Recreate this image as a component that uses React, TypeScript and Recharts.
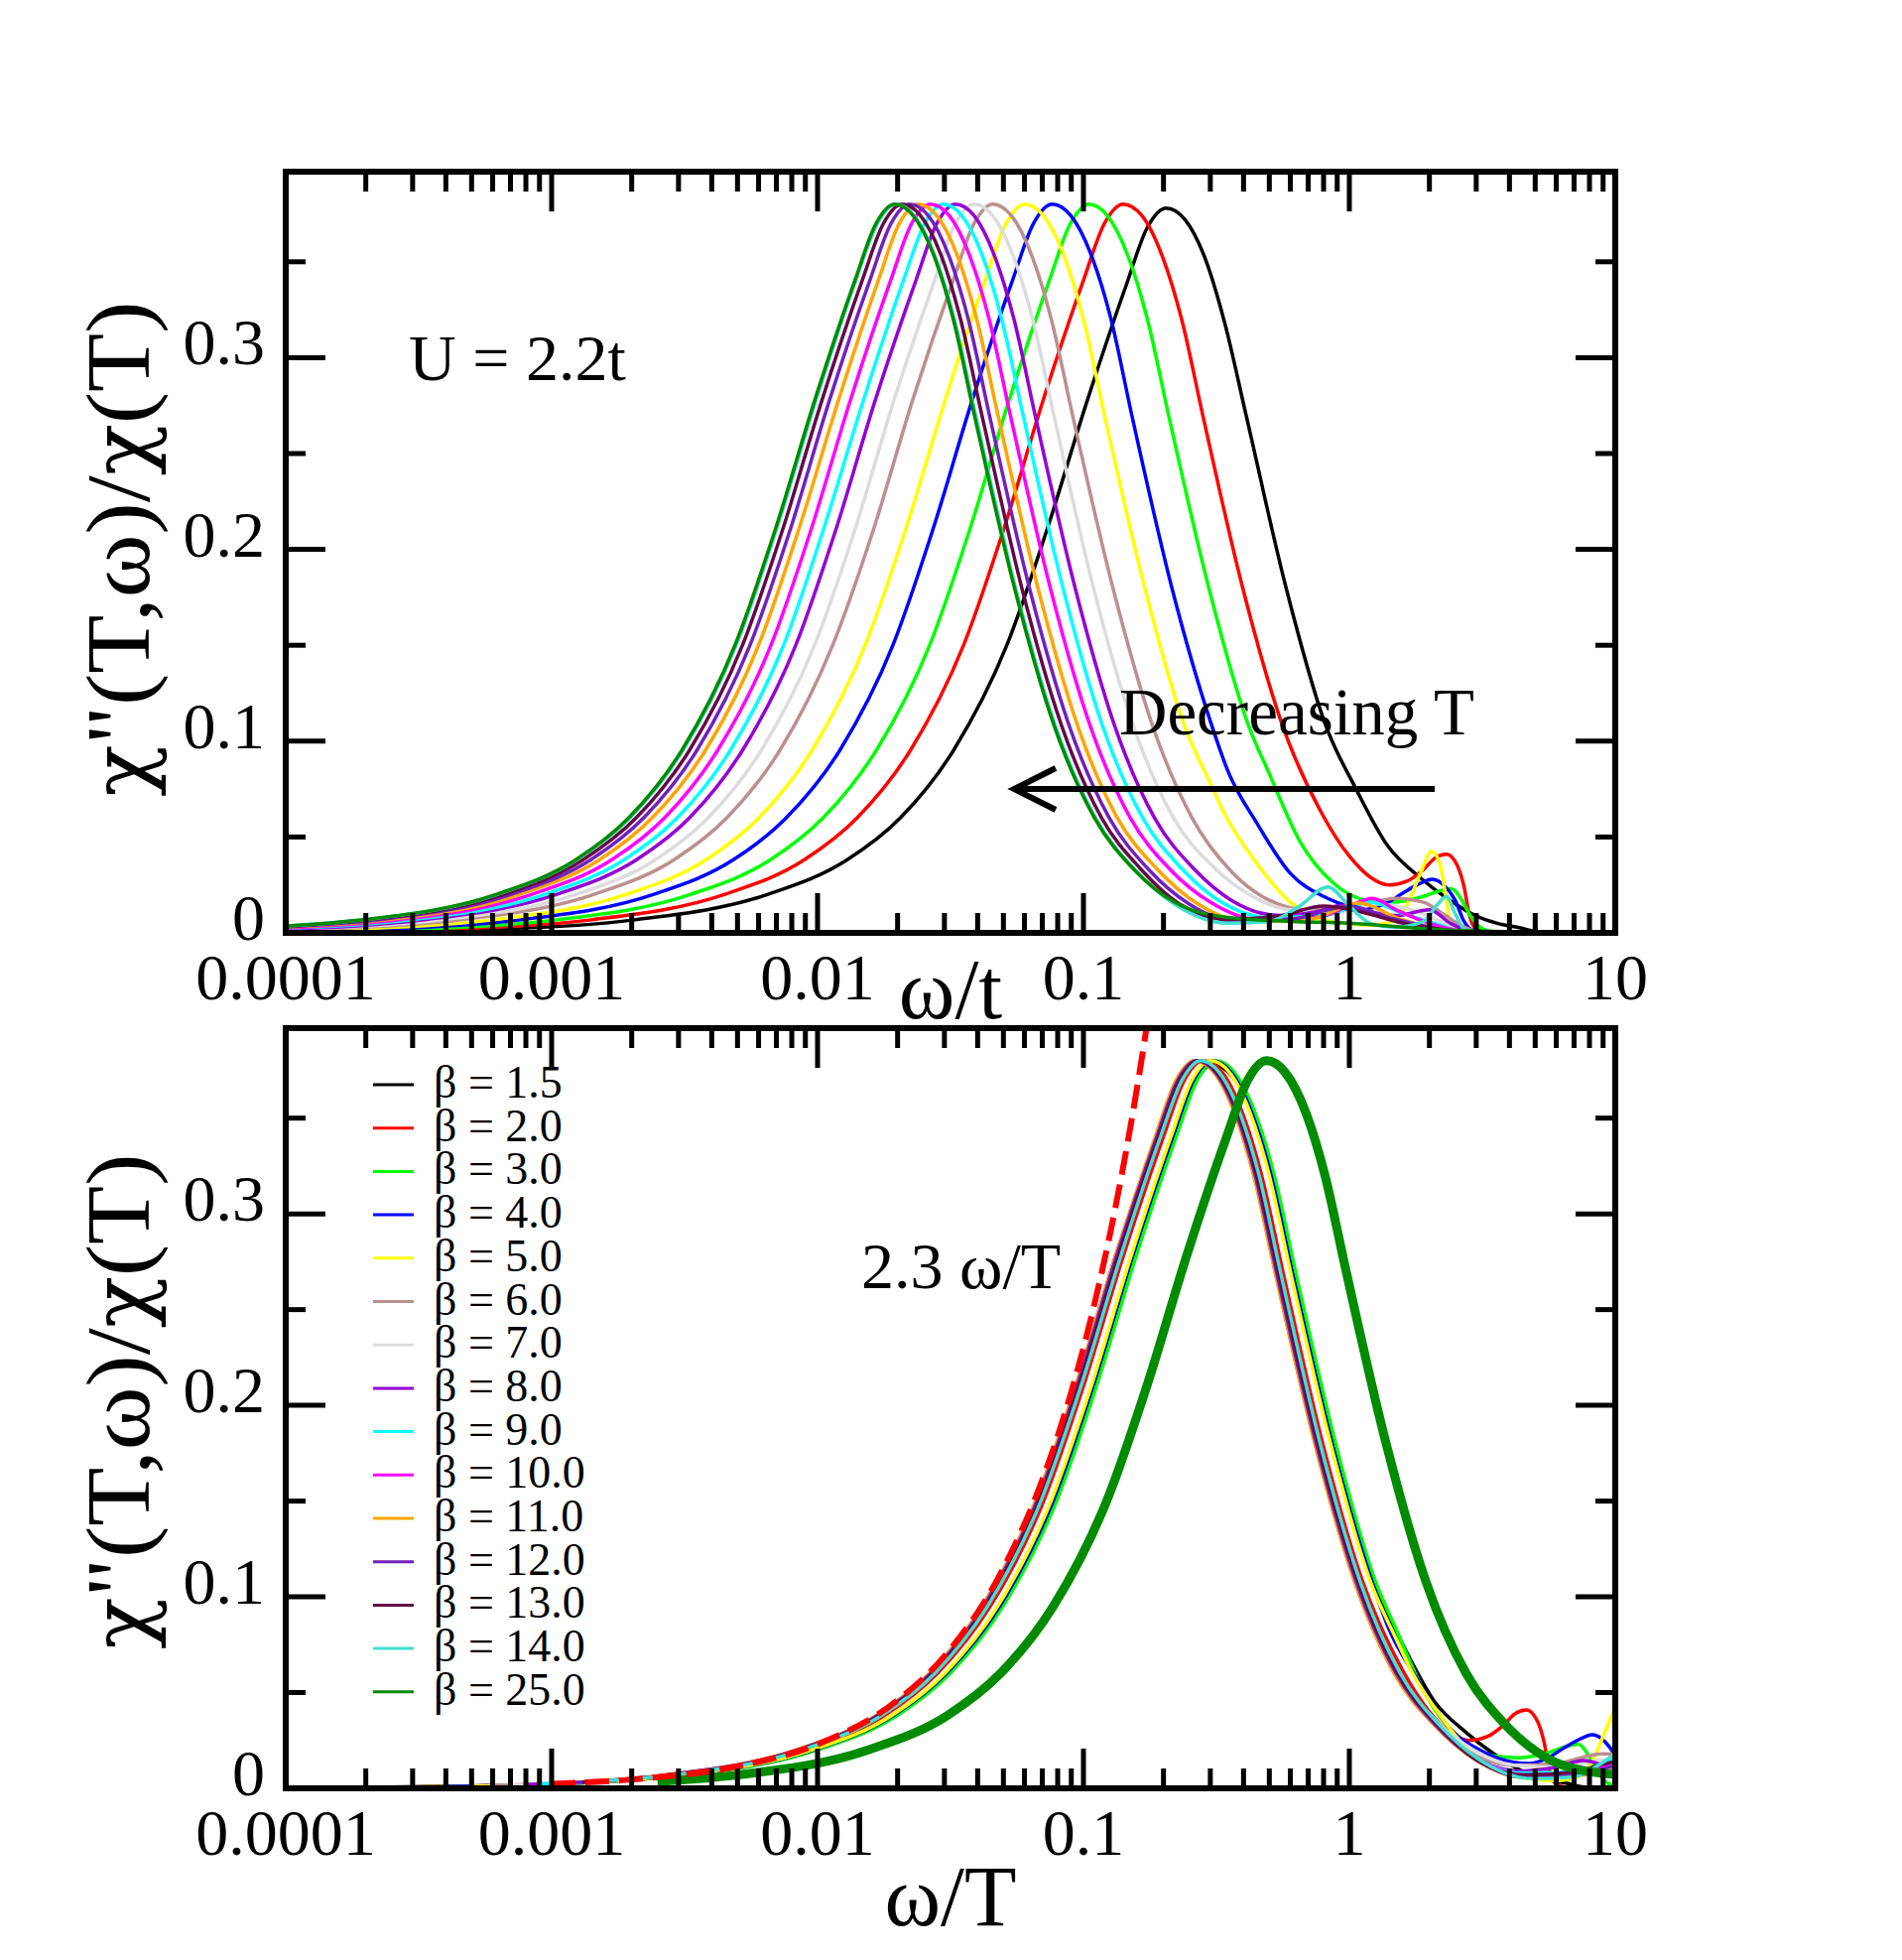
import React from 'react';
import { LineChart, Line, XAxis, YAxis } from 'recharts';

const FONT = "'Liberation Serif', 'Times New Roman', Times, serif";
const GREEK_FONT = "'DejaVu Serif', 'Liberation Serif', serif";

// ---------- data ----------
const betaValues: number[] = [1.5, 2, 3, 4, 5, 6, 7, 8, 9, 10, 11, 12, 13, 14, 25];
const betaLabels: string[] = [
  'β = 1.5', 'β = 2.0', 'β = 3.0', 'β = 4.0', 'β = 5.0', 'β = 6.0', 'β = 7.0', 'β = 8.0',
  'β = 9.0', 'β = 10.0', 'β = 11.0', 'β = 12.0', 'β = 13.0', 'β = 14.0', 'β = 25.0',
];
const lineColors: string[] = [
  '#000000', '#ff0000', '#00ff00', '#0000ff', '#ffff00', '#bc8f8f', '#dcdcdc', '#9400d3',
  '#00ffff', '#ff00ff', '#ffa500', '#7221bc', '#670748', '#40e0d0', '#008b00',
];

// each curve: [omega / t, chi''(T,omega)/chi(T)]
const curveB1_5: [number, number][] = [
  [0.0001, 0.00033], [0.000648, 0.0021], [0.00205, 0.0068], [0.00648, 0.02], [0.0129, 0.038],
  [0.0205, 0.06], [0.0324, 0.095], [0.0515, 0.15], [0.0728, 0.21], [0.103, 0.277],
  [0.145, 0.338], [0.174, 0.368], [0.205, 0.378], [0.241, 0.372], [0.29, 0.35], [0.34, 0.318],
  [0.409, 0.27], [0.578, 0.18], [0.816, 0.108], [1.06, 0.075], [1.4, 0.045], [1.82, 0.0295],
  [2.33, 0.018], [2.98, 0.009], [3.6, 0.005], [4.4, 0.0026], [5.0, 0.0008], [6.0, 0.0002], [10, 0],
];
const curveB2: [number, number][] = [
  [0.0001, 0.00048], [0.000446, 0.0021], [0.00141, 0.0068], [0.00446, 0.02], [0.0089, 0.038],
  [0.0141, 0.06], [0.0223, 0.095], [0.0354, 0.15], [0.05, 0.21], [0.0706, 0.278],
  [0.0998, 0.34], [0.12, 0.37], [0.141, 0.38], [0.166, 0.374], [0.199, 0.352], [0.234, 0.32],
  [0.281, 0.27], [0.397, 0.18], [0.561, 0.108], [0.79, 0.062], [1.0, 0.04], [1.2, 0.029],
  [1.41, 0.025], [1.65, 0.027], [1.9, 0.033], [2.1, 0.039], [2.32, 0.041], [2.55, 0.035],
  [2.7, 0.024], [2.82, 0.01], [2.95, 0.003], [3.3, 0.0005], [10, 0],
];
const curveB3: [number, number][] = [
  [0.0001, 0.00065], [0.000332, 0.0021], [0.00105, 0.0068], [0.00332, 0.02], [0.00663, 0.038],
  [0.0105, 0.06], [0.0166, 0.095], [0.0264, 0.15], [0.0373, 0.21], [0.0526, 0.278],
  [0.0743, 0.34], [0.0894, 0.37], [0.105, 0.38], [0.123, 0.374], [0.148, 0.352], [0.174, 0.32],
  [0.209, 0.27], [0.296, 0.18], [0.418, 0.108], [0.5, 0.083], [0.65, 0.048], [0.87, 0.026],
  [1.16, 0.017], [1.45, 0.016], [1.9, 0.019], [2.2, 0.022], [2.42, 0.023], [2.65, 0.017],
  [2.85, 0.009], [3.1, 0.003], [3.5, 0.0005], [10, 0],
];
const curveB4: [number, number][] = [
  [0.0001, 0.0009], [0.000241, 0.0021], [0.000763, 0.0068], [0.00241, 0.02], [0.00481, 0.038],
  [0.00763, 0.06], [0.0121, 0.095], [0.0192, 0.15], [0.0271, 0.21], [0.0382, 0.278],
  [0.054, 0.34], [0.0649, 0.37], [0.0763, 0.38], [0.0897, 0.374], [0.108, 0.352], [0.127, 0.32],
  [0.152, 0.27], [0.215, 0.18], [0.304, 0.108], [0.348, 0.085], [0.45, 0.057], [0.6, 0.031],
  [0.8, 0.019], [1.0, 0.014], [1.2, 0.013], [1.4, 0.016], [1.6, 0.021], [1.8, 0.025],
  [2.05, 0.028], [2.3, 0.024], [2.5, 0.017], [2.7, 0.006], [2.85, 0.002], [3.2, 0], [10, 0],
];
const curveB5: [number, number][] = [
  [0.0001, 0.0011], [0.00019, 0.0021], [0.000602, 0.0068], [0.0019, 0.02], [0.0038, 0.038],
  [0.00602, 0.06], [0.00951, 0.095], [0.0151, 0.15], [0.0214, 0.21], [0.0302, 0.278],
  [0.0426, 0.34], [0.0512, 0.37], [0.0602, 0.38], [0.0707, 0.374], [0.0851, 0.352], [0.1, 0.32],
  [0.12, 0.27], [0.17, 0.18], [0.24, 0.108], [0.3, 0.078], [0.34, 0.062], [0.45, 0.036],
  [0.6, 0.016], [0.75, 0.008], [0.95, 0.005], [1.2, 0.004], [1.45, 0.006], [1.65, 0.015],
  [1.85, 0.031], [2.04, 0.0425], [2.2, 0.035], [2.3, 0.02], [2.4, 0.005], [2.6, 0], [10, 0],
];
const curveB6: [number, number][] = [
  [0.0001, 0.0015], [0.000144, 0.0021], [0.000456, 0.0068], [0.00144, 0.02], [0.00288, 0.038],
  [0.00456, 0.06], [0.0072, 0.095], [0.0114, 0.15], [0.0162, 0.21], [0.0228, 0.278],
  [0.0323, 0.34], [0.0388, 0.37], [0.0456, 0.38], [0.0536, 0.374], [0.0644, 0.352], [0.0757, 0.32],
  [0.091, 0.27], [0.129, 0.18], [0.182, 0.108], [0.256, 0.06], [0.36, 0.032], [0.5, 0.017],
  [0.7, 0.012], [1.0, 0.013], [1.5, 0.018], [1.9, 0.016], [2.3, 0.009], [2.7, 0.003], [3.2, 0],
  [10, 0],
];
const curveB7: [number, number][] = [
  [0.0001, 0.0017], [0.000123, 0.0021], [0.000388, 0.0068], [0.00123, 0.02], [0.00245, 0.038],
  [0.00388, 0.06], [0.00613, 0.095], [0.00974, 0.15], [0.0138, 0.21], [0.0194, 0.278],
  [0.0275, 0.34], [0.033, 0.37], [0.0388, 0.38], [0.0456, 0.374], [0.0548, 0.352], [0.0644, 0.32],
  [0.0774, 0.27], [0.109, 0.18], [0.154, 0.108], [0.218, 0.06], [0.31, 0.034], [0.42, 0.02],
  [0.6, 0.012], [0.9, 0.011], [1.3, 0.015], [1.8, 0.011], [2.3, 0.005], [2.8, 0.001], [3.2, 0],
  [10, 0],
];
const curveB8: [number, number][] = [
  [0.0001, 0.002], [0.00033, 0.0068], [0.00104, 0.02], [0.00208, 0.038], [0.0033, 0.06],
  [0.00521, 0.095], [0.00828, 0.15], [0.0117, 0.21], [0.0165, 0.278], [0.0234, 0.34],
  [0.0281, 0.37], [0.033, 0.38], [0.0388, 0.374], [0.0466, 0.352], [0.0548, 0.32], [0.0658, 0.27],
  [0.093, 0.18], [0.131, 0.108], [0.185, 0.06], [0.262, 0.033], [0.36, 0.017], [0.55, 0.009],
  [0.75, 0.011], [0.95, 0.0145], [1.2, 0.011], [1.5, 0.009], [2.0, 0.012], [2.4, 0.005],
  [2.8, 0.001], [3.2, 0], [10, 0],
];
const curveB9: [number, number][] = [
  [0.0001, 0.0023], [0.000297, 0.0068], [0.00094, 0.02], [0.00187, 0.038], [0.00297, 0.06],
  [0.00469, 0.095], [0.00745, 0.15], [0.0105, 0.21], [0.0149, 0.278], [0.021, 0.34],
  [0.0253, 0.37], [0.0297, 0.38], [0.0349, 0.374], [0.042, 0.352], [0.0493, 0.32], [0.0593, 0.27],
  [0.0837, 0.18], [0.118, 0.108], [0.167, 0.06], [0.236, 0.033], [0.33, 0.016], [0.5, 0.008],
  [0.8, 0.009], [1.2, 0.016], [1.6, 0.01], [2.2, 0.004], [2.8, 0], [10, 0],
];
const curveB10: [number, number][] = [
  [0.0001, 0.0025], [0.000266, 0.0068], [0.00084, 0.02], [0.00168, 0.038], [0.00266, 0.06],
  [0.0042, 0.095], [0.00668, 0.15], [0.00944, 0.21], [0.0133, 0.278], [0.0188, 0.34],
  [0.0226, 0.37], [0.0266, 0.38], [0.0313, 0.374], [0.0376, 0.352], [0.0442, 0.32], [0.0531, 0.27],
  [0.075, 0.18], [0.106, 0.108], [0.15, 0.06], [0.212, 0.033], [0.3, 0.016], [0.45, 0.007],
  [0.75, 0.008], [1.0, 0.014], [1.22, 0.018], [1.5, 0.012], [2.0, 0.005], [2.6, 0.001], [3.0, 0],
  [10, 0],
];
const curveB11: [number, number][] = [
  [0.0001, 0.0028], [0.000239, 0.0068], [0.000755, 0.02], [0.00151, 0.038], [0.00239, 0.06],
  [0.00378, 0.095], [0.006, 0.15], [0.00848, 0.21], [0.012, 0.278], [0.0169, 0.34],
  [0.0203, 0.37], [0.0239, 0.38], [0.0281, 0.374], [0.0338, 0.352], [0.0397, 0.32], [0.0477, 0.27],
  [0.0674, 0.18], [0.0951, 0.108], [0.134, 0.06], [0.19, 0.033], [0.27, 0.015], [0.4, 0.006],
  [0.7, 0.007], [1.09, 0.0155], [1.5, 0.008], [2.0, 0.003], [2.6, 0], [10, 0],
];
const curveB12: [number, number][] = [
  [0.0001, 0.003], [0.000222, 0.0068], [0.0007, 0.02], [0.0014, 0.038], [0.00222, 0.06],
  [0.00351, 0.095], [0.00557, 0.15], [0.00788, 0.21], [0.0111, 0.278], [0.0157, 0.34],
  [0.0189, 0.37], [0.0222, 0.38], [0.0261, 0.374], [0.0314, 0.352], [0.0369, 0.32], [0.0443, 0.27],
  [0.0626, 0.18], [0.0884, 0.108], [0.125, 0.06], [0.176, 0.033], [0.25, 0.015], [0.37, 0.006],
  [0.6, 0.007], [1.0, 0.014], [1.4, 0.008], [2.0, 0.003], [2.6, 0], [10, 0],
];
const curveB13: [number, number][] = [
  [0.0001, 0.0033], [0.000208, 0.0068], [0.000657, 0.02], [0.00131, 0.038], [0.00208, 0.06],
  [0.00329, 0.095], [0.00522, 0.15], [0.00738, 0.21], [0.0104, 0.278], [0.0147, 0.34],
  [0.0177, 0.37], [0.0208, 0.38], [0.0244, 0.374], [0.0294, 0.352], [0.0345, 0.32], [0.0415, 0.27],
  [0.0586, 0.18], [0.0828, 0.108], [0.117, 0.06], [0.165, 0.033], [0.23, 0.015], [0.35, 0.007],
  [0.55, 0.009], [0.8, 0.014], [1.1, 0.011], [1.6, 0.005], [2.2, 0.002], [2.8, 0], [10, 0],
];
const curveB14: [number, number][] = [
  [0.0001, 0.0035], [0.000197, 0.0068], [0.000623, 0.02], [0.00124, 0.038], [0.00197, 0.06],
  [0.00311, 0.095], [0.00494, 0.15], [0.00699, 0.21], [0.00987, 0.278], [0.0139, 0.34],
  [0.0168, 0.37], [0.0197, 0.38], [0.0231, 0.374], [0.0278, 0.352], [0.0327, 0.32], [0.0393, 0.27],
  [0.0555, 0.18], [0.0784, 0.108], [0.111, 0.06], [0.156, 0.033], [0.22, 0.015], [0.35, 0.005],
  [0.5, 0.006], [0.65, 0.014], [0.83, 0.024], [1.0, 0.014], [1.2, 0.005], [1.5, 0.003],
  [1.9, 0.006], [2.15, 0.015], [2.32, 0.019], [2.5, 0.01], [2.7, 0.002], [3.0, 0], [10, 0],
];
const curveB25: [number, number][] = [
  [0.0001, 0.0035], [0.000195, 0.0068], [0.000617, 0.02], [0.00123, 0.038], [0.00195, 0.06],
  [0.00308, 0.095], [0.00489, 0.15], [0.00692, 0.21], [0.00977, 0.278], [0.0138, 0.34],
  [0.0166, 0.37], [0.0195, 0.38], [0.0229, 0.374], [0.0276, 0.352], [0.0324, 0.32], [0.0389, 0.27],
  [0.055, 0.18], [0.0776, 0.108], [0.11, 0.06], [0.155, 0.033], [0.22, 0.016], [0.35, 0.008],
  [0.6, 0.006], [1.0, 0.005], [2.0, 0.002], [3.0, 0.001], [10, 0],
];
const curves = [
  curveB1_5, curveB2, curveB3, curveB4, curveB5, curveB6, curveB7, curveB8,
  curveB9, curveB10, curveB11, curveB12, curveB13, curveB14, curveB25,
];

// dashed guide "2.3 omega/T" (omega/T, value)
const guideW: number[] = [0.001, 0.002, 0.005, 0.01, 0.02, 0.03, 0.05, 0.07, 0.09, 0.11, 0.13, 0.15, 0.17, 0.19];
const guideChi: number[] = [0.0023, 0.0046, 0.0115, 0.023, 0.046, 0.069, 0.115, 0.161, 0.207, 0.253, 0.299, 0.345, 0.391, 0.437];

// axis ticks
const xMajorTicks: number[] = [0.0001, 0.001, 0.01, 0.1, 1, 10];
const xTickLabels: string[] = ['0.0001', '0.001', '0.01', '0.1', '1', '10'];
const xMinorMultipliers: number[] = [2, 3, 4, 5, 6, 7, 8, 9];
const yMajorTicks: number[] = [0, 0.1, 0.2, 0.3];
const yTickLabels: string[] = ['0', '0.1', '0.2', '0.3'];
const yMinorTicks: number[] = [0.05, 0.15, 0.25, 0.35];

const X_DOMAIN: [number, number] = [0.0001, 10];
const Y_DOMAIN: [number, number] = [0, 0.397];

// ---------- derived tables for the library ----------
const xTicks: number[] = [];
xMajorTicks.forEach((d, i) => {
  xTicks.push(d);
  if (i < xMajorTicks.length - 1) xMinorMultipliers.forEach((m) => xTicks.push(d * m));
});
const yTicks: number[] = [...yMajorTicks, ...yMinorTicks].sort((a, b) => a - b);

const topSeries = curves.map((c, i) => ({
  key: 'top' + i,
  color: lineColors[i],
  data: c.map(([x, y]) => ({ x, y })),
}));
// omega/T = (omega/t) * beta
const bottomSeries = curves.map((c, i) => ({
  key: 'bot' + i,
  color: lineColors[i],
  data: c.map(([x, y]) => ({ x: x * betaValues[i], y })),
}));
const guideData = guideW.map((x, i) => ({ x, y: guideChi[i] }));

// ---------- tick renderers ----------
const majorX = (v: number) => xMajorTicks.findIndex((d) => Math.abs(v / d - 1) < 1e-6);
const majorY = (v: number) => yMajorTicks.findIndex((d) => Math.abs(v - d) < 1e-9);

const makeXTick = (side: 'bottom' | 'top') => (props: any) => {
  const { x, y, payload } = props;
  const mi = majorX(payload.value);
  const len = mi >= 0 ? 40 : 20;
  const dir = side === 'bottom' ? -1 : 1;
  return (
    <g>
      <line x1={x} x2={x} y1={y} y2={y + dir * len} stroke="#000" strokeWidth={5} />
      {side === 'bottom' && mi >= 0 ? (
        <text x={x} y={y + 67} textAnchor="middle" fontSize={66} fontFamily={FONT} fill="#000">
          {xTickLabels[mi]}
        </text>
      ) : null}
    </g>
  );
};
const makeYTick = (side: 'left' | 'right') => (props: any) => {
  const { x, y, payload } = props;
  const mi = majorY(payload.value);
  const len = mi >= 0 ? 40 : 20;
  const dir = side === 'left' ? 1 : -1;
  return (
    <g>
      <line x1={x} x2={x + dir * len} y1={y} y2={y} stroke="#000" strokeWidth={5} />
      {side === 'left' && mi >= 0 ? (
        <text x={x - 21} y={y + 7} textAnchor="end" fontSize={66} fontFamily={FONT} fill="#000">
          {yTickLabels[mi]}
        </text>
      ) : null}
    </g>
  );
};

const axisLineStyle = { stroke: '#000', strokeWidth: 6, strokeLinecap: 'square' as const };

function Panel(props: {
  height: number;
  marginTop: number;
  xAxisHeight: number;
  series: { key: string; color: string; data: { x: number; y: number }[] }[];
  thickLast: boolean;
  guide: boolean;
}) {
  const { height, marginTop, xAxisHeight, series, thickLast, guide } = props;
  return (
    <LineChart width={1917} height={height} margin={{ top: marginTop - 1, right: 288, bottom: 0, left: 0 }}>
      <XAxis
        xAxisId="b"
        dataKey="x"
        type="number"
        scale="log"
        domain={X_DOMAIN}
        allowDataOverflow
        ticks={xTicks}
        interval={0}
        tickSize={0}
        tickMargin={0}
        tickLine={false}
        axisLine={axisLineStyle}
        height={xAxisHeight}
        tick={makeXTick('bottom')}
      />
      <XAxis
        xAxisId="t"
        orientation="top"
        dataKey="x"
        type="number"
        scale="log"
        domain={X_DOMAIN}
        allowDataOverflow
        ticks={xTicks}
        interval={0}
        tickSize={0}
        tickMargin={0}
        tickLine={false}
        axisLine={axisLineStyle}
        height={1}
        tick={makeXTick('top')}
      />
      <YAxis
        yAxisId="l"
        type="number"
        domain={Y_DOMAIN}
        allowDataOverflow
        ticks={yTicks}
        interval={0}
        tickSize={0}
        tickMargin={0}
        tickLine={false}
        axisLine={axisLineStyle}
        width={288}
        tick={makeYTick('left')}
      />
      <YAxis
        yAxisId="r"
        orientation="right"
        type="number"
        domain={Y_DOMAIN}
        allowDataOverflow
        ticks={yTicks}
        interval={0}
        tickSize={0}
        tickMargin={0}
        tickLine={false}
        axisLine={axisLineStyle}
        width={1}
        tick={makeYTick('right')}
      />
      {series.map((s, i) => (
        <Line
          key={s.key}
          xAxisId="b"
          yAxisId="l"
          data={s.data}
          dataKey="y"
          type="monotone"
          stroke={s.color}
          strokeWidth={thickLast && i === series.length - 1 ? 9 : 3.5}
          dot={false}
          activeDot={false}
          isAnimationActive={false}
        />
      ))}
      {guide ? (
        <Line
          key="guide"
          xAxisId="b"
          yAxisId="l"
          data={guideData}
          dataKey="y"
          type="monotone"
          stroke="#ff0000"
          strokeWidth={6}
          strokeDasharray="24 10"
          dot={false}
          activeDot={false}
          isAnimationActive={false}
        />
      ) : null}
    </LineChart>
  );
}

function YTitle({ cx, cy }: { cx: number; cy: number }) {
  return (
    <text
      transform={`translate(${cx},${cy}) rotate(-90) scale(1,0.93)`}
      textAnchor="middle"
      fontSize={97}
      fill="#000"
    >
      <tspan fontFamily={GREEK_FONT} fontSize={86}>χ</tspan>
      <tspan>"(T,ω)/</tspan>
      <tspan fontFamily={GREEK_FONT} fontSize={86}>χ</tspan>
      <tspan>(T)</tspan>
    </text>
  );
}

export default function App() {
  const legendTop = 1093;
  const legendStep = 43.7;
  return (
    <div style={{ position: 'absolute', left: 0, top: 0, width: 1917, height: 1975, background: '#fff' }}>
      <div style={{ position: 'absolute', left: 0, top: 0 }}>
        <Panel height={1030} marginTop={173} xAxisHeight={90} series={topSeries} thickLast={false} guide={false} />
      </div>
      <div style={{ position: 'absolute', left: 0, top: 1030 }}>
        <Panel height={945} marginTop={6} xAxisHeight={173} series={bottomSeries} thickLast={true} guide={true} />
      </div>
      <svg
        width={1917}
        height={1975}
        style={{ position: 'absolute', left: 0, top: 0, pointerEvents: 'none' }}
        fontFamily={FONT}
      >
        {/* axis titles */}
        <YTitle cx={150} cy={553} />
        <YTitle cx={150} cy={1412} />
        <text x={958} y={1026} textAnchor="middle" fontSize={86} fill="#000">ω/t</text>
        <text x={958} y={1940} textAnchor="middle" fontSize={86} fill="#000">ω/T</text>

        {/* annotations */}
        <text x={412} y={383} fontSize={66} fill="#000">U = 2.2t</text>
        <text x={1128} y={740} fontSize={67} fill="#000">Decreasing T</text>
        <line x1={1446} y1={795} x2={1024} y2={795} stroke="#000" strokeWidth={6} />
        <polyline points="1064,774 1022,795 1064,816" fill="none" stroke="#000" strokeWidth={6} />
        <text x={868} y={1298} fontSize={66} fill="#000">2.3 ω/T</text>

        {/* legend */}
        {betaLabels.map((lab, i) => (
          <g key={lab}>
            <line
              x1={376}
              x2={417}
              y1={legendTop + i * legendStep}
              y2={legendTop + i * legendStep}
              stroke={lineColors[i]}
              strokeWidth={3}
            />
            <text x={437} y={legendTop + i * legendStep + 13} fontSize={46} fill="#000">
              {lab}
            </text>
          </g>
        ))}
      </svg>
    </div>
  );
}
